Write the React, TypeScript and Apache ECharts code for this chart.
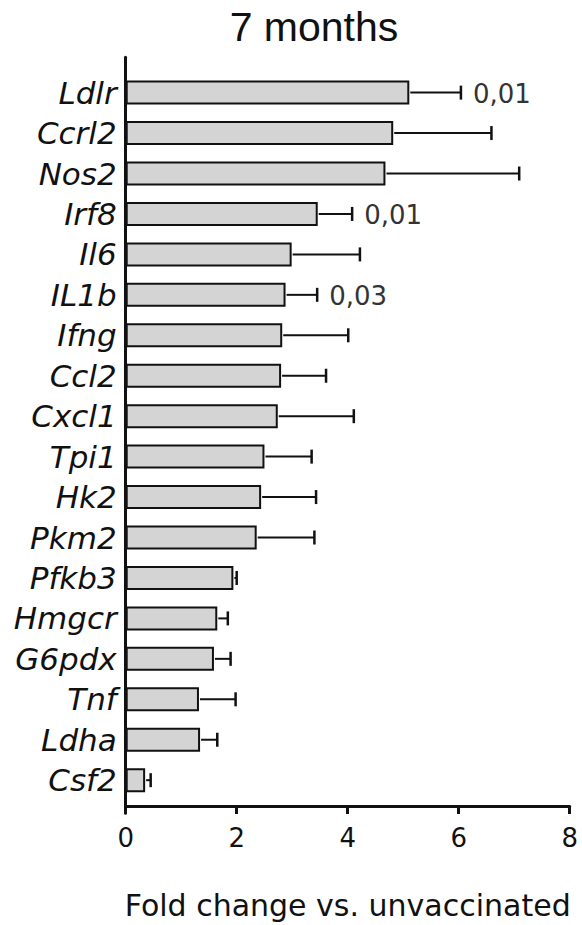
import React, { useEffect, useRef } from "react";
import * as echarts from "echarts";

const genes = ["Ldlr", "Ccrl2", "Nos2", "Irf8", "Il6", "IL1b", "Ifng", "Ccl2", "Cxcl1", "Tpi1", "Hk2", "Pkm2", "Pfkb3", "Hmgcr", "G6pdx", "Tnf", "Ldha", "Csf2"];
const foldChange = [5.11, 4.82, 4.68, 3.46, 2.99, 2.88, 2.82, 2.8, 2.74, 2.5, 2.44, 2.36, 1.94, 1.65, 1.59, 1.32, 1.34, 0.35];
const errorUpper = [6.04, 6.59, 7.09, 4.08, 4.22, 3.45, 4.01, 3.61, 4.11, 3.35, 3.43, 3.4, 2.0, 1.84, 1.89, 1.98, 1.65, 0.45];
const pValues = ["0,01", "", "", "0,01", "", "0,03", "", "", "", "", "", "", "", "", "", "", "", ""];
const xTicks = [0, 2, 4, 6, 8];
const titleText = "7 months";
const xAxisTitle = "Fold change vs. unvaccinated";

const SANS = "'DejaVu Sans', sans-serif";
const ARIAL = "'Liberation Sans', Arial, sans-serif";
const INK = "#111111";

export default function App() {
  const ref = useRef<HTMLDivElement>(null);
  useEffect(() => {
    if (!ref.current) return;
    const chart = echarts.init(ref.current, undefined, { renderer: "svg" });
    const errData = genes.map((g, i) => [foldChange[i], errorUpper[i], i, pValues[i]]);
    chart.setOption({
      animation: false,
      backgroundColor: "#ffffff",
      title: {
        text: titleText,
        left: 314,
        top: 6,
        padding: 0,
        textAlign: "center",
        textStyle: { fontFamily: ARIAL, fontSize: 41, fontWeight: "normal", color: INK },
      },
      grid: [
        { left: 125.7, right: 12.3, top: 72.4, height: 735.3, containLabel: false },
        { left: 125.7, right: 12.3, top: 57.3, bottom: 111.7, containLabel: false },
      ],
      xAxis: [
        {
          type: "value",
          gridIndex: 0,
          min: 0,
          max: 8,
          interval: 2,
          offset: 5.6,
          axisLine: { show: true, lineStyle: { color: INK, width: 3 } },
          axisTick: { show: true, length: 8, lineStyle: { color: INK, width: 3 } },
          splitLine: { show: false },
          axisLabel: {
            fontFamily: SANS,
            fontSize: 26,
            color: INK,
            margin: 19,
            formatter: (v: number) => (xTicks.includes(v) ? String(v) : ""),
          },
          name: xAxisTitle,
          nameLocation: "middle",
          nameGap: 84,
          nameTextStyle: { fontFamily: SANS, fontSize: 30, color: INK },
        },
        { type: "value", gridIndex: 1, show: false, min: 0, max: 8 },
      ],
      yAxis: [
        {
          type: "category",
          gridIndex: 0,
          data: genes,
          inverse: true,
          axisLine: { show: false },
          axisTick: { show: false },
          axisLabel: {
            fontFamily: SANS,
            fontStyle: "italic",
            fontSize: 31,
            color: INK,
            margin: 9,
          },
        },
        {
          type: "value",
          gridIndex: 1,
          min: 0,
          max: 1,
          axisLine: { show: true, lineStyle: { color: INK, width: 3 } },
          axisTick: { show: false },
          axisLabel: { show: false },
          splitLine: { show: false },
        },
      ],
      series: [
        {
          type: "bar",
          xAxisIndex: 0,
          yAxisIndex: 0,
          data: foldChange,
          barWidth: 24,
          itemStyle: { color: "#d4d4d4", borderColor: INK, borderWidth: 2 },
          z: 2,
        },
        {
          type: "custom",
          xAxisIndex: 0,
          yAxisIndex: 0,
          data: errData,
          z: 3,
          renderItem: (params: any, api: any) => {
            const val = api.value(0);
            const hi = api.value(1);
            const idx = api.value(2);
            const p0 = api.coord([val, idx]);
            const p1 = api.coord([hi, idx]);
            const label = pValues[params.dataIndex];
            const children: any[] = [
              {
                type: "line",
                shape: { x1: p0[0] + 1, y1: p0[1], x2: p1[0], y2: p1[1] },
                style: { stroke: INK, lineWidth: 2 },
              },
              {
                type: "line",
                shape: { x1: p1[0], y1: p1[1] - 7, x2: p1[0], y2: p1[1] + 7 },
                style: { stroke: INK, lineWidth: 2.5 },
              },
            ];
            if (label) {
              children.push({
                type: "text",
                x: p1[0] + 12,
                y: p1[1] + 1,
                style: {
                  text: label,
                  fontFamily: SANS,
                  fontSize: 26,
                  fill: "#333333",
                  textAlign: "left",
                  textVerticalAlign: "middle",
                },
              });
            }
            return { type: "group", children };
          },
        },
      ],
    });
    return () => chart.dispose();
  }, []);
  return (
    <div
      ref={ref}
      style={{ position: "absolute", left: 0, top: 0, width: 582, height: 925, background: "#fff" }}
    />
  );
}
